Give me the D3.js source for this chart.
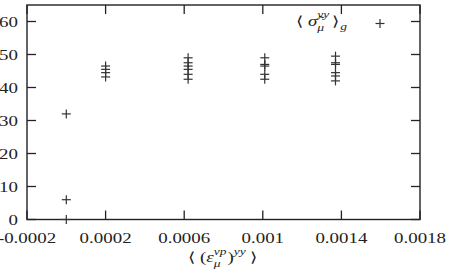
<!DOCTYPE html>
<html>
<head>
<meta charset="utf-8">
<script src="https://cdn.jsdelivr.net/npm/d3@7"></script>
<style>
  body { margin: 0; background: #fff; }
  text { font-family: "Liberation Serif", "Times New Roman", serif; fill: #222; }
</style>
</head>
<body>
<svg id="chart"></svg>
<script>
// strain vs stress scatter, gnuplot-style

const W = 455, H = 272;

const xTicks = [-0.0002, 0.0002, 0.0006, 0.001, 0.0014, 0.0018];
const xTickLabels = ["-0.0002", "0.0002", "0.0006", "0.001", "0.0014", "0.0018"];
const yTicks = [0, 10, 20, 30, 40, 50, 60];

// strain <(eps_mu^vp)^yy> and stress <sigma~_mu^yy>_g, one entry per point
const strain = [
    0, 0, 0,
    0.0002, 0.0002, 0.0002, 0.0002,
    0.00062, 0.00062, 0.00062, 0.00062, 0.00062, 0.00062,
    0.00101, 0.00101, 0.00101, 0.00101, 0.00101,
    0.00137, 0.00137, 0.00137, 0.00137, 0.00137, 0.00137
];
const stress = [
    0, 6, 32,
    46.5, 45.5, 44.5, 43.2,
    49, 47.5, 46.5, 45.5, 44, 42.5,
    49, 47, 46.5, 44, 42.5,
    49.5, 47.5, 47, 44.5, 43.5, 42
];

const margin = { top: 5, right: 35, bottom: 52.5, left: 27 };
const stretch = 1.35;   // the picture's text is wider than tall

const svg = d3.select("#chart")
    .attr("width", W)
    .attr("height", H);

svg.append("rect").attr("width", W).attr("height", H).attr("fill", "#fff");

const x = d3.scaleLinear()
    .domain([-0.0002, 0.0018])
    .range([margin.left, W - margin.right]);

const y = d3.scaleLinear()
    .domain([0, 65])
    .range([H - margin.bottom, margin.top]);

const ink = "#222";
const tickLen = 9;

function label(px, py, anchor, size = 14) {
    return svg.append("text")
        .attr("transform", `translate(${px},${py}) scale(${stretch},1)`)
        .attr("text-anchor", anchor)
        .attr("font-size", size + "px");
}

// Ticks on all four sides (mirrored, pointing inward)
const g = svg.append("g").attr("stroke", ink).attr("stroke-width", 1.3);

xTicks.forEach(v => {
    g.append("line")
        .attr("x1", x(v)).attr("x2", x(v))
        .attr("y1", y(0)).attr("y2", y(0) - tickLen);
    g.append("line")
        .attr("x1", x(v)).attr("x2", x(v))
        .attr("y1", y(65)).attr("y2", y(65) + tickLen);
});

yTicks.forEach(v => {
    g.append("line")
        .attr("x1", x(-0.0002)).attr("x2", x(-0.0002) + tickLen)
        .attr("y1", y(v)).attr("y2", y(v));
    g.append("line")
        .attr("x1", x(0.0018)).attr("x2", x(0.0018) - tickLen)
        .attr("y1", y(v)).attr("y2", y(v));
});

// Border
svg.append("rect")
    .attr("x", x(-0.0002))
    .attr("y", y(65))
    .attr("width", x(0.0018) - x(-0.0002))
    .attr("height", y(0) - y(65))
    .attr("fill", "none")
    .attr("stroke", ink)
    .attr("stroke-width", 1.4);

// Tick labels
xTicks.forEach((v, i) => {
    label(x(v), 243, "middle").text(xTickLabels[i]);
});

yTicks.forEach(v => {
    label(18, y(v) + 5, "end").text(v);
});

// Axis label: ⟨ (ε_μ^vp)^yy ⟩, scripts as separate texts so they stack
let cx = 188;
const base = 262;
function piece(txt, dy, size, italic) {
    const t = label(cx, base + dy, "start", size).text(txt);
    if (italic) t.attr("font-style", "italic");
    return t.node().getComputedTextLength() * stretch;
}
cx += piece("⟨", 0, 14, false) + 4;
cx += piece("(", 0, 14, false);
cx += piece("ε", 0, 14, true);
const supW = piece("vp", -7, 10, true);
piece("μ", 5, 10, true);
cx += supW + 1;
cx += piece(")", 0, 14, false);
cx += piece("yy", -7, 10, true) + 4;
piece("⟩", 0, 14, false);

// Points as plus markers
const plus = 4.5;
const pts = svg.append("g").attr("stroke", "#333").attr("stroke-width", 1.2);
strain.forEach((sx, i) => {
    const px = x(sx), py = y(stress[i]);
    pts.append("line").attr("x1", px - plus).attr("x2", px + plus).attr("y1", py).attr("y2", py);
    pts.append("line").attr("x1", px).attr("x2", px).attr("y1", py - plus).attr("y2", py + plus);
});

// Key: ⟨ σ̃_μ^yy ⟩_g
const keyBase = 26;
let kxs = 296;
function kpiece(txt, dy, size, italic) {
    const t = label(kxs, keyBase + dy, "start", size).text(txt);
    if (italic) t.attr("font-style", "italic");
    return t.node().getComputedTextLength() * stretch;
}
kxs += kpiece("⟨", 0, 14, false) + 4;
kxs += kpiece("σ̃", 0, 14, true);
const kSup = kpiece("yy", -8, 10, true);
kpiece("μ", 5, 10, true);
kxs += kSup + 3;
kxs += kpiece("⟩", 0, 14, false);
kpiece("g", 4, 10, true);

const kx = 380, ky = 23.5;
pts.append("line").attr("x1", kx - plus).attr("x2", kx + plus).attr("y1", ky).attr("y2", ky);
pts.append("line").attr("x1", kx).attr("x2", kx).attr("y1", ky - plus).attr("y2", ky + plus);
</script>
</body>
</html>
